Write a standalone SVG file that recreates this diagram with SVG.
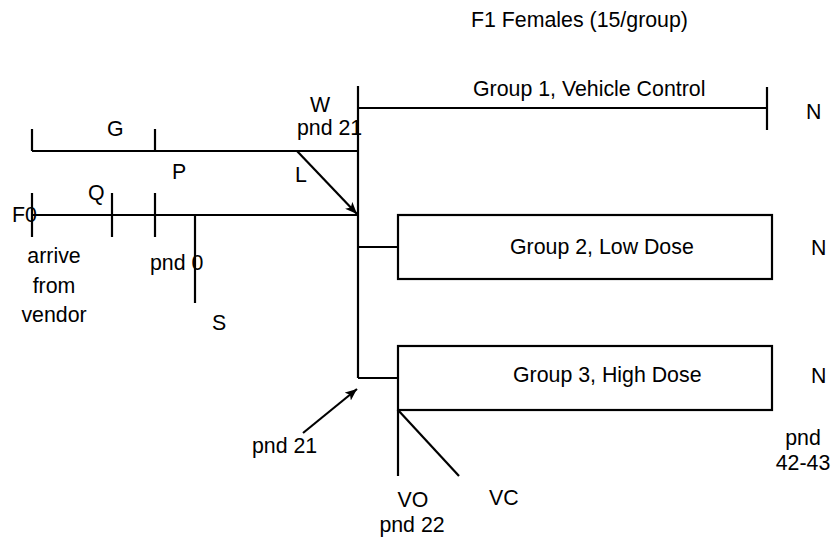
<svg xmlns="http://www.w3.org/2000/svg" width="831" height="545" viewBox="0 0 831 545">
<style>
  .ln { stroke:#000; stroke-width:2.2; fill:none; }
  .box { stroke:#000; stroke-width:2.2; fill:#fff; }
  text { font-family:"Liberation Sans", Arial, sans-serif; font-size:16pt; fill:#000; }
  .m { text-anchor:middle; }
</style>
<defs>
  <marker id="ah" viewBox="0 0 12 10" refX="12" refY="5" markerWidth="12" markerHeight="10" markerUnits="userSpaceOnUse" orient="auto">
    <path d="M0,0 L12,5 L0,10 L3,5 Z" fill="#000"/>
  </marker>
</defs>
<rect width="831" height="545" fill="#fff"/>
<g id="connectors">
  <line class="ln" x1="32" y1="151" x2="358" y2="151"/>
  <line class="ln" x1="32" y1="129" x2="32" y2="151"/>
  <line class="ln" x1="155" y1="129" x2="155" y2="151"/>
  <line class="ln" x1="32" y1="215" x2="358" y2="215"/>
  <line class="ln" x1="32" y1="193" x2="32" y2="237"/>
  <line class="ln" x1="112" y1="193" x2="112" y2="237"/>
  <line class="ln" x1="155" y1="193" x2="155" y2="237"/>
  <line class="ln" x1="195" y1="215" x2="195" y2="303"/>
  <line class="ln" x1="358" y1="86" x2="358" y2="378"/>
  <line class="ln" x1="358" y1="108" x2="767" y2="108"/>
  <line class="ln" x1="767" y1="87" x2="767" y2="130"/>
  <line class="ln" x1="358" y1="247" x2="398" y2="247"/>
  <line class="ln" x1="358" y1="378" x2="398" y2="378"/>
  <line class="ln" x1="297" y1="151" x2="357" y2="214" marker-end="url(#ah)"/>
  <line class="ln" x1="303" y1="433" x2="357" y2="389" marker-end="url(#ah)"/>
  <line class="ln" x1="398" y1="410" x2="398" y2="476"/>
  <line class="ln" x1="398" y1="410" x2="459" y2="476"/>
</g>
<g id="title"><text x="471" y="27">F1 Females (15/group)</text></g>
<g id="group1"><text x="473" y="96">Group 1, Vehicle Control</text></g>
<g id="group2">
  <rect class="box" x="398" y="215" width="374" height="64"/>
  <text x="510" y="254">Group 2, Low Dose</text>
</g>
<g id="group3">
  <rect class="box" x="398" y="346" width="374" height="64"/>
  <text x="513" y="382">Group 3, High Dose</text>
</g>
<g id="labels">
  <text x="806" y="119">N</text>
  <text x="811" y="255">N</text>
  <text x="811" y="383">N</text>
  <text class="m" x="803" y="445">pnd</text>
  <text class="m" x="803" y="470">42-43</text>
  <text x="310" y="112">W</text>
  <text x="297" y="135">pnd 21</text>
  <text x="107" y="136">G</text>
  <text x="172" y="179">P</text>
  <text x="295" y="182">L</text>
  <text x="88" y="200">Q</text>
  <text x="12" y="222">F0</text>
  <text class="m" x="54" y="263">arrive</text>
  <text class="m" x="54" y="293">from</text>
  <text class="m" x="54" y="322">vendor</text>
  <text x="150" y="270">pnd 0</text>
  <text x="212" y="330">S</text>
  <text x="252" y="453">pnd 21</text>
  <text class="m" x="413" y="507">VO</text>
  <text class="m" x="412" y="532">pnd 22</text>
  <text x="489" y="505">VC</text>
</g>
</svg>
